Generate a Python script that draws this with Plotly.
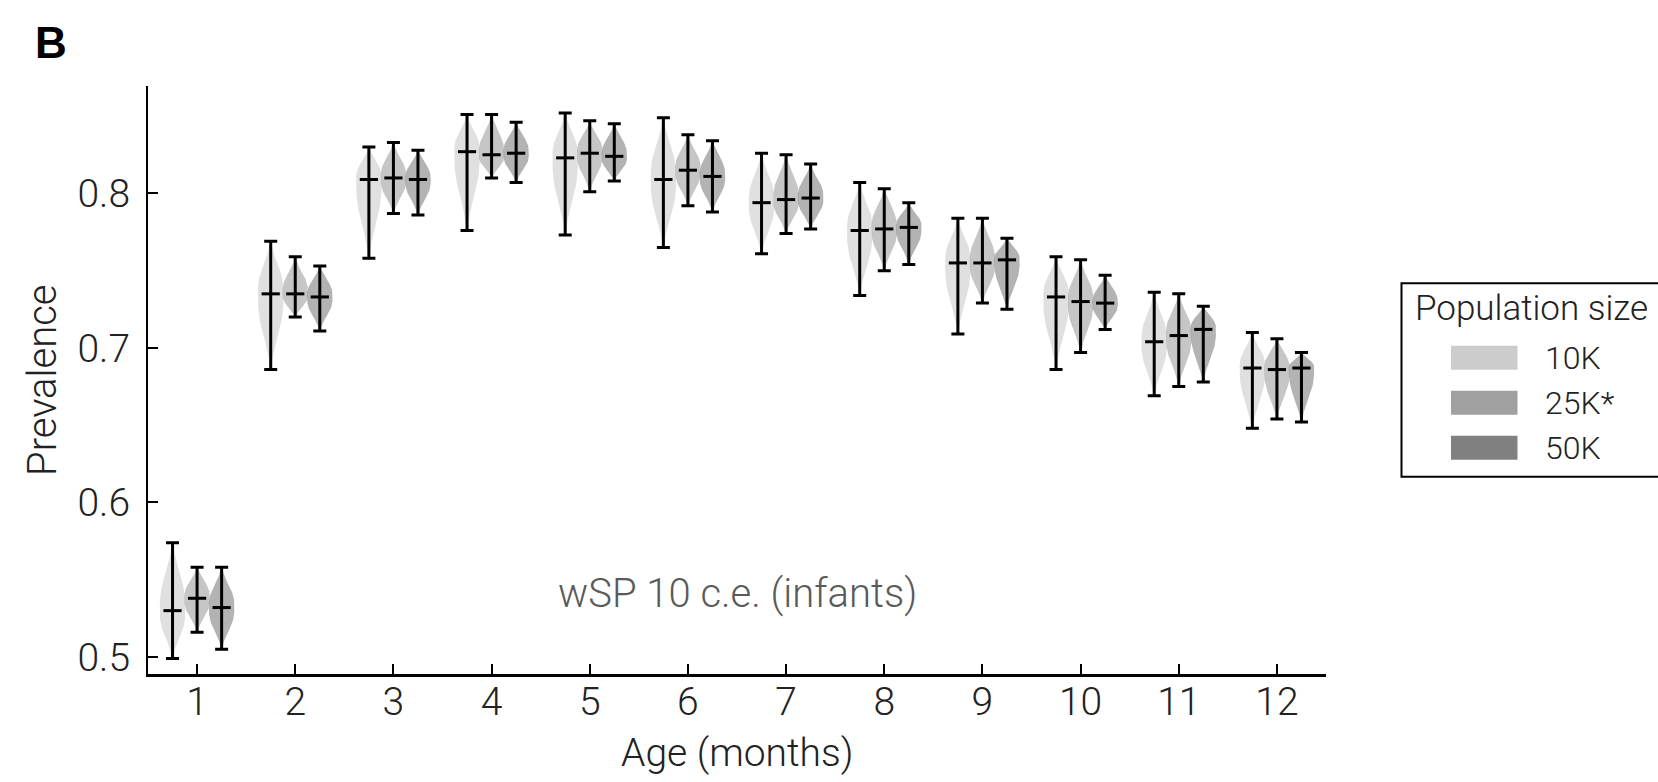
import numpy as np
import plotly.graph_objects as go

# ---------------- data ----------------
months = [1, 2, 3, 4, 5, 6, 7, 8, 9, 10, 11, 12]
series_names = ["10K", "25K*", "50K"]

med_10k = [0.530, 0.735, 0.809, 0.827, 0.823, 0.809, 0.794, 0.776, 0.755, 0.733, 0.704, 0.687]
min_10k = [0.499, 0.686, 0.758, 0.776, 0.773, 0.765, 0.761, 0.734, 0.709, 0.686, 0.669, 0.648]
max_10k = [0.574, 0.769, 0.830, 0.851, 0.852, 0.849, 0.826, 0.807, 0.784, 0.759, 0.736, 0.710]

med_25k = [0.538, 0.735, 0.810, 0.825, 0.826, 0.815, 0.796, 0.777, 0.755, 0.730, 0.708, 0.686]
min_25k = [0.516, 0.720, 0.787, 0.810, 0.801, 0.792, 0.774, 0.750, 0.729, 0.697, 0.675, 0.654]
max_25k = [0.558, 0.759, 0.833, 0.851, 0.847, 0.838, 0.825, 0.803, 0.784, 0.757, 0.735, 0.706]

med_50k = [0.532, 0.733, 0.809, 0.826, 0.824, 0.811, 0.797, 0.778, 0.757, 0.729, 0.712, 0.687]
min_50k = [0.505, 0.711, 0.786, 0.807, 0.808, 0.788, 0.777, 0.754, 0.725, 0.712, 0.678, 0.652]
max_50k = [0.558, 0.753, 0.828, 0.846, 0.845, 0.834, 0.819, 0.794, 0.771, 0.747, 0.727, 0.697]

y_ticks = [0.5, 0.6, 0.7, 0.8]
y_tick_labels = ["0.5", "0.6", "0.7", "0.8"]

# ---------------- style ----------------
offsets = [-0.25, 0.0, 0.25]
base_rgb = [(204, 204, 204), (160, 160, 160), (128, 128, 128)]
violin_alpha = 0.6
half_width = 0.13
FONT = "Roboto"

series = [
    (med_10k, min_10k, max_10k),
    (med_25k, min_25k, max_25k),
    (med_50k, min_50k, max_50k),
]

fig = go.Figure()

# violin bodies (outline derived from each group's min / median / max)
for (meds, mins, maxs), off, rgb in zip(series, offsets, base_rgb):
    fill = "rgba(%d,%d,%d,%.2f)" % (rgb[0], rgb[1], rgb[2], violin_alpha)
    for m, md, lo, hi in zip(months, meds, mins, maxs):
        ys = np.linspace(lo, hi, 101)
        s_lo = max(md - lo, 1e-4) / 1.9
        s_hi = max(hi - md, 1e-4) / 1.9
        s = np.where(ys < md, s_lo, s_hi)
        z = np.abs((ys - md) / s)
        w = half_width * np.exp(-0.5 * z ** 2.8)
        cx = m + off
        xs = np.concatenate([cx + w, (cx - w)[::-1]])
        yy = np.concatenate([ys, ys[::-1]])
        fig.add_trace(go.Scatter(
            x=xs, y=yy, mode="lines", fill="toself", fillcolor=fill,
            line=dict(width=0, color=fill), hoverinfo="skip", showlegend=False,
        ))

# median ticks and min/max whiskers
for (meds, mins, maxs), off, name in zip(series, offsets, series_names):
    xpos = [m + off for m in months]
    fig.add_trace(go.Scatter(
        x=xpos, y=meds, mode="markers", name=name, showlegend=False,
        marker=dict(symbol="line-ew", size=13, color="black",
                    line=dict(width=3, color="black")),
        error_y=dict(type="data", symmetric=False,
                     array=[h - d for h, d in zip(maxs, meds)],
                     arrayminus=[d - l for d, l in zip(meds, mins)],
                     color="black", thickness=3, width=6.5),
    ))

W, H = 1658, 782
L, R, T, B = 148, 1326, 86, 674.5


def px_x(p):
    return (p - L) / (R - L)


def px_y(p):
    return (B - p) / (B - T)


annotations = [
    dict(text="Prevalence", x=px_x(42), y=0.5, xref="paper", yref="paper",
         textangle=-90, showarrow=False, xanchor="center", yanchor="middle",
         font=dict(family=FONT, size=40, color="#222", weight=300)),
    dict(text="Age (months)", x=0.5, y=px_y(754), xref="paper", yref="paper",
         showarrow=False, xanchor="center", yanchor="middle",
         font=dict(family=FONT, size=39, color="#222", weight=300)),
    dict(text="wSP 10 c.e. (infants)", x=0.5, y=px_y(594), xref="paper", yref="paper",
         showarrow=False, xanchor="center", yanchor="middle",
         font=dict(family=FONT, size=40, color="#5a5a5a", weight=300)),
    dict(text="<b>B</b>", x=px_x(51), y=px_y(42), xref="paper", yref="paper",
         showarrow=False, xanchor="center", yanchor="middle",
         font=dict(family="Liberation Sans", size=44, color="black")),
    dict(text="Population size", x=px_x(1413), y=px_y(309), xref="paper", yref="paper",
         showarrow=False, xanchor="left", yanchor="middle",
         font=dict(family=FONT, size=35, color="#222", weight=300)),
]

shapes = [
    dict(type="rect", xref="paper", yref="paper",
         x0=px_x(1401.5), x1=px_x(1720), y0=px_y(477), y1=px_y(283.3),
         line=dict(color="black", width=2), fillcolor="rgba(0,0,0,0)", layer="above"),
]

legend_y_px = [358, 403, 448]
for name, rgb, yc in zip(series_names, base_rgb, legend_y_px):
    shapes.append(dict(type="rect", xref="paper", yref="paper",
                       x0=px_x(1451), x1=px_x(1517.5),
                       y0=px_y(yc + 12), y1=px_y(yc - 12),
                       line=dict(width=0), fillcolor="rgb(%d,%d,%d)" % rgb))
    annotations.append(dict(text=name, x=px_x(1543), y=px_y(yc), xref="paper", yref="paper",
                            showarrow=False, xanchor="left", yanchor="middle",
                            font=dict(family=FONT, size=32, color="#222", weight=300)))

fig.update_layout(
    width=W, height=H,
    margin=dict(l=L, r=W - R, t=T, b=H - B, pad=0),
    paper_bgcolor="white", plot_bgcolor="white",
    font=dict(family=FONT, color="#222", weight=300),
    showlegend=False,
    annotations=annotations,
    shapes=shapes,
    xaxis=dict(range=[0.5, 12.5], tickmode="array", tickvals=months,
               ticktext=[str(m) for m in months],
               showgrid=False, zeroline=False, showline=True, linecolor="black",
               linewidth=2.5, ticks="inside", ticklen=10, tickwidth=1.5,
               tickcolor="black", ticklabelstandoff=-9,
               tickfont=dict(family=FONT, size=39, color="#222", weight=300)),
    yaxis=dict(range=[0.489, 0.8695], tickmode="array", tickvals=y_ticks,
               ticktext=y_tick_labels,
               showgrid=False, zeroline=False, showline=True, linecolor="black",
               linewidth=2.2, ticks="inside", ticklen=10, tickwidth=1.5,
               tickcolor="black", ticklabelstandoff=8,
               tickfont=dict(family=FONT, size=39, color="#222", weight=300)),
)

fig.write_html("out.html")
